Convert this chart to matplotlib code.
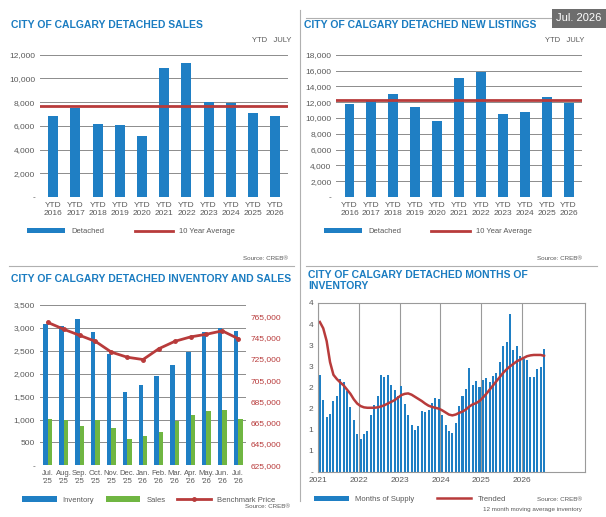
import numpy as np
import matplotlib
matplotlib.use("Agg")
import matplotlib.pyplot as plt
from matplotlib.ticker import FuncFormatter, MultipleLocator

AZUL = "#1f7fc4"
VERDE = "#70b642"
VERMELHO = "#b83b3b"
TITULO = "#1a7cc1"
CINZA = "#595959"

plt.rcParams["font.family"] = ["Liberation Sans", "DejaVu Sans"]
plt.rcParams["font.size"] = 6

anos = ["YTD\n2016", "YTD\n2017", "YTD\n2018", "YTD\n2019", "YTD\n2020", "YTD\n2021",
        "YTD\n2022", "YTD\n2023", "YTD\n2024", "YTD\n2025", "YTD\n2026"]
vendas = [6850, 7550, 6150, 6050, 5150, 10850, 11350, 8000, 7950, 7050, 6800]
media_vendas = 7650
listagens = [11800, 12300, 13100, 11400, 9600, 15000, 15800, 10500, 10700, 12700, 11900]
media_listagens = 12300

meses = ["Jul.\n'25", "Aug.\n'25", "Sep.\n'25", "Oct.\n'25", "Nov.\n'25", "Dec.\n'25", "Jan.\n'26",
         "Feb.\n'26", "Mar.\n'26", "Apr.\n'26", "May.\n'26", "Jun.\n'26", "Jul.\n'26"]
inventario = [3080, 3040, 3200, 2910, 2440, 1600, 1750, 1940, 2190, 2470, 2920, 3000, 2940]
vendas_mes = [1020, 1000, 850, 1000, 820, 580, 650, 730, 970, 1090, 1180, 1200, 1010]
preco = [759400, 753000, 747300, 741600, 731500, 726700, 724500, 734700, 741600,
         745800, 748300, 751500, 744200]

oferta = [2.30, 1.71, 1.30, 1.37, 1.68, 1.80, 2.21, 2.13, 1.91, 1.55, 1.23, 0.91,
          0.78, 0.90, 0.97, 1.34, 1.59, 1.80, 2.30, 2.25, 2.30, 2.07, 1.94, 1.79,
          2.03, 1.62, 1.35, 1.12, 1.00, 1.10, 1.45, 1.41, 1.47, 1.63, 1.76, 1.72,
          1.35, 1.11, 0.96, 0.92, 1.16, 1.57, 1.79, 1.96, 2.47, 2.06, 2.16, 2.02,
          2.17, 2.22, 2.13, 2.28, 2.35, 2.61, 2.99, 3.08, 3.74, 2.89, 2.99, 2.74,
          2.67, 2.66, 2.25, 2.26, 2.44, 2.49, 2.91]
tendencia = [3.55, 3.40, 3.10, 2.60, 2.30, 2.20, 2.12, 2.05, 1.95, 1.85, 1.72, 1.62,
             1.56, 1.53, 1.52, 1.52, 1.52, 1.53, 1.55, 1.58, 1.62, 1.66, 1.70, 1.76,
             1.82, 1.85, 1.86, 1.83, 1.78, 1.73, 1.68, 1.62, 1.57, 1.54, 1.52, 1.50,
             1.46, 1.41, 1.36, 1.34, 1.36, 1.40, 1.43, 1.48, 1.55, 1.60, 1.63, 1.68,
             1.76, 1.85, 1.95, 2.05, 2.15, 2.25, 2.35, 2.43, 2.50, 2.56, 2.62, 2.66,
             2.70, 2.74, 2.76, 2.77, 2.77, 2.77, 2.75]

milhar = FuncFormatter(lambda v, p: "-" if v == 0 else f"{v:,.0f}")

fig = plt.figure(figsize=(6.06, 5.17), dpi=100)


def estilo(ax):
    for s in ax.spines.values():
        s.set_visible(False)
    ax.tick_params(length=0, colors=CINZA, labelsize=6)
    ax.grid(axis="y", color="#8c8c8c", lw=0.7)
    ax.set_axisbelow(True)


def painel_ytd(pos, valores, media, passo, topo, titulo, xt):
    ax = fig.add_axes(pos)
    x = np.arange(len(valores))
    barras = ax.bar(x, valores, width=0.45, color=AZUL, label="Detached")
    linha = ax.axhline(media, color=VERMELHO, lw=2, label="10 Year Average")
    ax.set_ylim(0, topo)
    ax.yaxis.set_major_locator(MultipleLocator(passo))
    ax.yaxis.set_major_formatter(milhar)
    ax.set_xticks(x, anos)
    ax.set_xlim(-0.6, len(valores) - 0.4)
    estilo(ax)
    fig.text(xt, 0.945, titulo, color=TITULO, fontsize=7.5, fontweight="bold")
    fig.text(pos[0] + pos[2] - 0.06, 0.918, "YTD   JULY", color=CINZA, fontsize=5.5)
    ax.legend([barras, linha], ["Detached", "10 Year Average"], loc="upper left",
              bbox_to_anchor=(-0.08, -0.17), ncol=2, frameon=False,
              fontsize=5.5, handlelength=5, columnspacing=4, labelcolor=CINZA)
    fig.text(pos[0] + pos[2], 0.497, "Source: CREB®", color=CINZA, fontsize=4.5, ha="right")
    return ax


painel_ytd([0.066, 0.619, 0.41, 0.275], vendas, media_vendas, 2000, 12000,
           "CITY OF CALGARY DETACHED SALES", 0.018)
painel_ytd([0.555, 0.619, 0.405, 0.275], listagens, media_listagens, 2000, 18000,
           "CITY OF CALGARY DETACHED NEW LISTINGS", 0.502)

# Selo da data
fig.text(0.955, 0.965, "Jul. 2026", color="white", fontsize=8, ha="center", va="center",
         bbox=dict(boxstyle="square,pad=0.4", fc="#6d6d6d", ec="none"))

# Divisórias
fig.add_artist(plt.Line2D([0.495, 0.495], [0.03, 0.98], color="#b0b0b0", lw=0.8))
fig.add_artist(plt.Line2D([0.015, 0.485], [0.485, 0.485], color="#b0b0b0", lw=0.8))
fig.add_artist(plt.Line2D([0.505, 0.985], [0.485, 0.485], color="#b0b0b0", lw=0.8))
fig.add_artist(plt.Line2D([0.505, 0.985], [0.965, 0.965], color="#b0b0b0", lw=0.8))

# Inventário e vendas
ax = fig.add_axes([0.066, 0.10, 0.34, 0.31])
x = np.arange(len(meses))
ax.bar(x - 0.14, inventario, width=0.28, color=AZUL, label="Inventory")
ax.bar(x + 0.14, vendas_mes, width=0.28, color=VERDE, label="Sales")
ax.set_ylim(0, 3500)
ax.yaxis.set_major_locator(MultipleLocator(500))
ax.yaxis.set_major_formatter(milhar)
ax.set_xticks(x, meses)
ax.tick_params(axis="x", labelsize=5.5)
ax.set_xlim(-0.5, len(meses) - 0.5)
estilo(ax)
ax.tick_params(axis="x", labelsize=5.5)
ax2 = ax.twinx()
ax2.plot(x, preco, color=VERMELHO, lw=2, marker="o", ms=2.5, label="Benchmark Price")
ax2.set_ylim(625000, 775800)
ax2.set_yticks(np.arange(625000, 765001, 20000))
ax2.yaxis.set_major_formatter(FuncFormatter(lambda v, p: f"{v:,.0f}"))
for s in ax2.spines.values():
    s.set_visible(False)
ax2.tick_params(length=0, colors=VERMELHO, labelsize=6)
fig.text(0.018, 0.455, "CITY OF CALGARY DETACHED INVENTORY AND SALES", color=TITULO,
         fontsize=7.5, fontweight="bold")
h1, l1 = ax.get_legend_handles_labels()
h2, l2 = ax2.get_legend_handles_labels()
ax.legend(h1 + h2, l1 + l2, loc="upper left", bbox_to_anchor=(-0.12, -0.15), ncol=3,
          frameon=False, fontsize=5.5, handlelength=4.5, columnspacing=1.5, labelcolor=CINZA)
fig.text(0.478, 0.018, "Source: CREB®", color=CINZA, fontsize=4.5, ha="right")

# Meses de oferta
ax = fig.add_axes([0.525, 0.087, 0.44, 0.327])
x = np.arange(len(oferta))
barras = ax.bar(x, oferta, width=0.6, color=AZUL, label="Months of Supply")
linha, = ax.plot(x, tendencia, color=VERMELHO, lw=1.8, label="Trended")
ax.set_ylim(0, 4)
ax.set_xlim(-0.5, 78)
ax.set_yticks(np.arange(0, 4.01, 0.5))
ax.yaxis.set_major_formatter(FuncFormatter(lambda v, p: "-" if v == 0 else f"{int(v + 0.5)}"))
ax.set_xticks(np.arange(0, 72, 12) - 0.5, [str(a) for a in range(2021, 2027)])
ax.grid(axis="x", color="#9a9a9a", lw=0.8)
ax.set_axisbelow(True)
for s in ax.spines.values():
    s.set_color("#9a9a9a")
ax.tick_params(length=0, colors=CINZA, labelsize=6)
fig.text(0.508, 0.437, "CITY OF CALGARY DETACHED MONTHS OF\nINVENTORY", color=TITULO,
         fontsize=7.5, fontweight="bold", va="bottom", linespacing=1.1)
ax.legend([barras, linha], ["Months of Supply", "Trended"], loc="upper left",
          bbox_to_anchor=(-0.04, -0.1), ncol=2, frameon=False,
          fontsize=5.5, handlelength=4.5, columnspacing=3, labelcolor=CINZA)
fig.text(0.96, 0.03, "Source: CREB®", color=CINZA, fontsize=4.5, ha="right")
fig.text(0.96, 0.012, "12 month moving average inventory", color=CINZA, fontsize=4.5, ha="right")

fig.savefig("out.png", dpi=100)
